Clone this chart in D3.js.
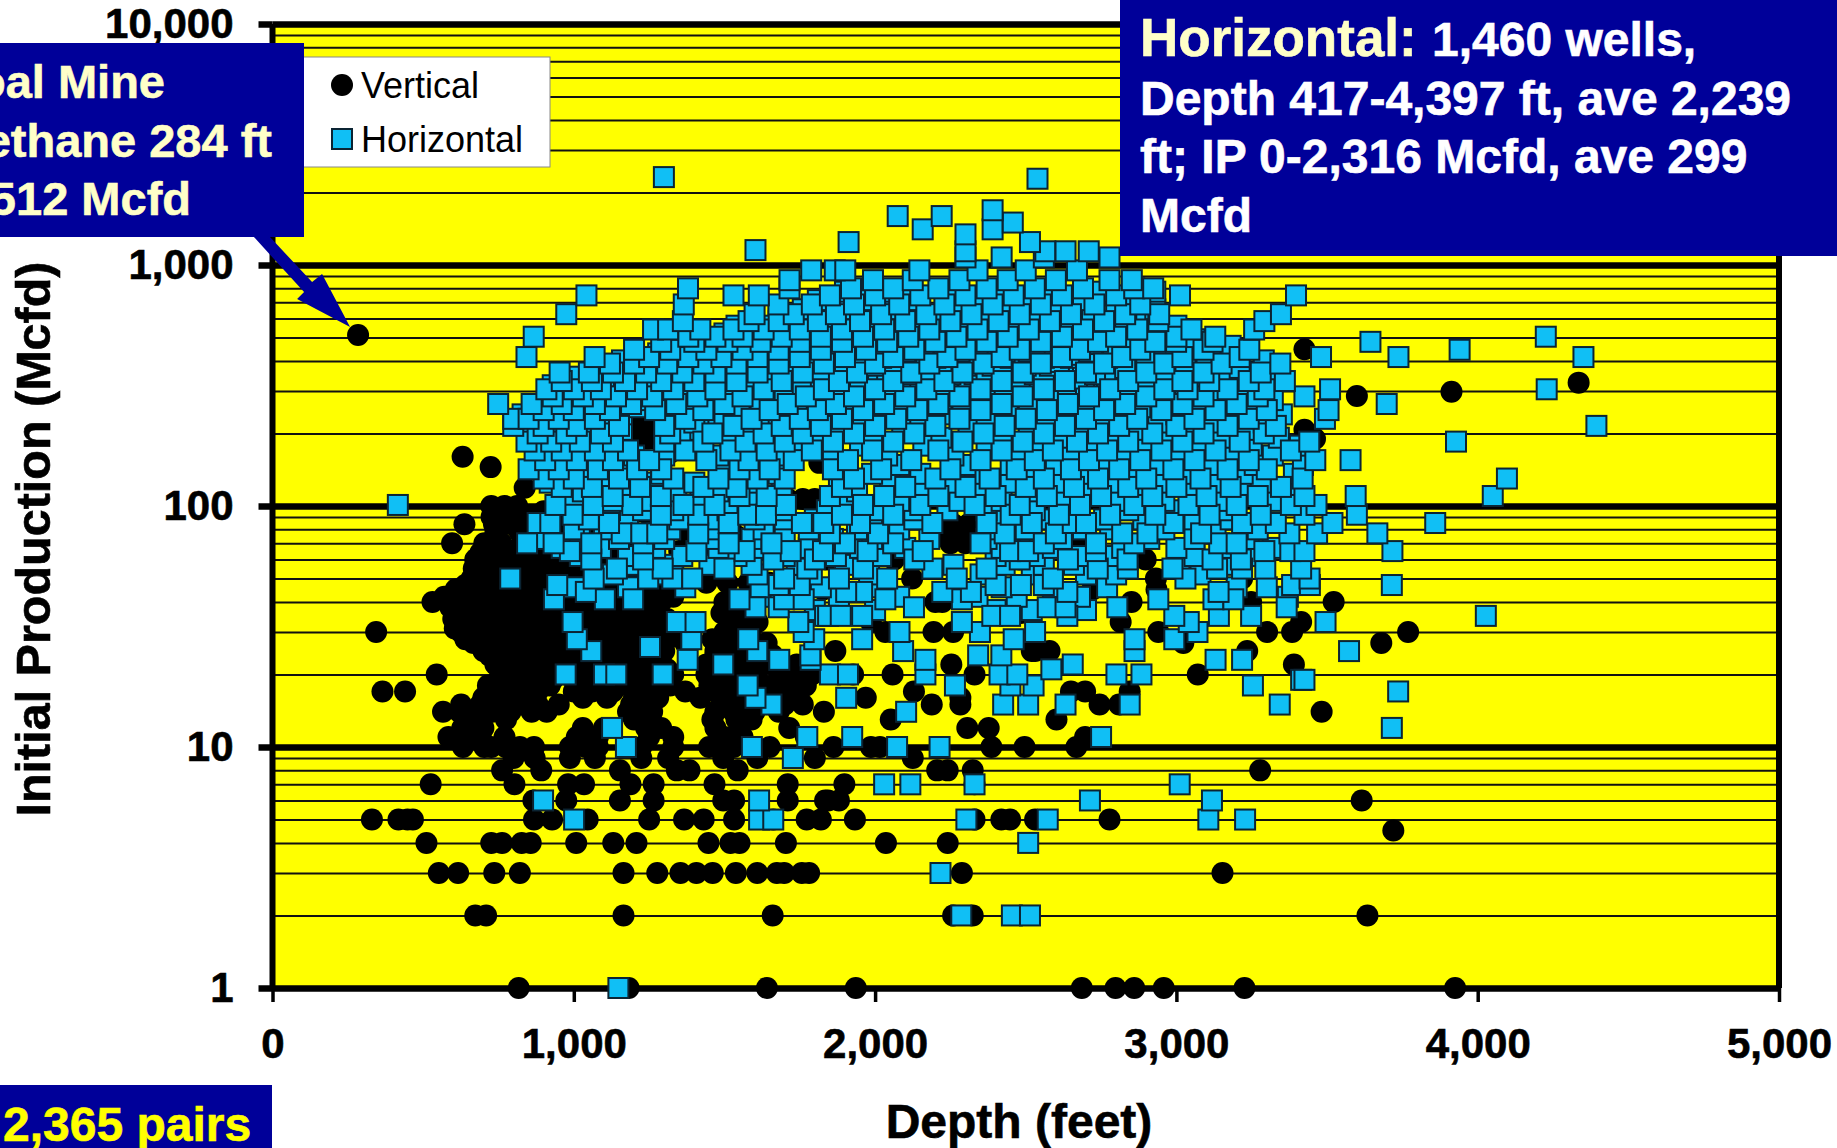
<!DOCTYPE html>
<html>
<head>
<meta charset="utf-8">
<script src="https://cdn.jsdelivr.net/npm/d3@7"></script>
<style>
  body { margin: 0; background: #fff; }
  text { font-family: "Liberation Sans", Arial, sans-serif; }
</style>
</head>
<body>
<div id="chart"></div>
<script>
const majorTicks = [1, 10, 100, 1000, 10000]
const minorTicks = [2, 3, 4, 5, 6, 7, 8, 9, 20, 30, 40, 50, 60, 70, 80, 90, 200, 300, 400, 500, 600, 700, 800, 900, 2000, 3000, 4000, 5000, 6000, 7000, 8000, 9000]
const depthTicks = [0, 1000, 2000, 3000, 4000, 5000]

// one row per IP value: [IP, [depths]]
const verticalRows = [
  [1, [817, 1182, 1641, 1936, 2686, 2798, 2860, 2958, 3226, 3925]],
  [2, [673, 709, 1165, 1660, 2259, 2324, 3634]],
  [3, [552, 616, 736, 821, 1165, 1277, 1354, 1407, 1461, 1538, 1609, 1674, 1698, 1757, 1781, 2288, 3153]],
  [4, [511, 726, 762, 827, 857, 1008, 1131, 1208, 1447, 1520, 1550, 1704, 2036, 2241]],
  [4.5, [3720]],
  [5, [330, 418, 448, 466, 868, 928, 1046, 1250, 1366, 1431, 1532, 1662, 1773, 1820, 1933, 2330, 2419, 2448, 2531, 2778]],
  [6, [866, 975, 1153, 1265, 1496, 1532, 1710, 1834, 1844, 1880, 3615]],
  [7, [525, 803, 981, 1034, 1188, 1265, 1467, 1710, 1898, 2330]],
  [8, [762, 892, 1153, 1342, 1384, 1544, 2206, 2241, 2324, 3278]],
  [9, [800, 870, 987, 1070, 1224, 1313, 1496, 1609, 1800, 2125]],
  [10, [632, 703, 726, 774, 821, 868, 987, 1040, 1080, 1224, 1330, 1449, 1530, 1650, 1862, 1986, 2016, 2386, 2496, 2668]],
  [11, [584, 650, 691, 770, 1010, 1080, 1250, 1330, 1500, 1560, 1770, 2697]],
  [12, [630, 665, 700, 1030, 1100, 1240, 1290, 1470, 1550, 1715, 2306, 2377]],
  [13, [640, 690, 775, 1200, 1240, 1460, 1540, 1590, 2052, 2602]],
  [14, [566, 620, 670, 730, 790, 860, 910, 1180, 1260, 1470, 1530, 1600, 1680, 1830, 3482]],
  [15, [626, 690, 760, 830, 880, 950, 1190, 1240, 1500, 1570, 1700, 1760, 2188, 2283, 2745, 2810]],
  [16, [700, 770, 840, 1030, 1110, 1200, 1280, 1420, 1490, 1590, 1690, 1969, 2283]],
  [17, [365, 440, 738, 810, 880, 1000, 1060, 1130, 1230, 1370, 1470, 1520, 1640, 1720, 2129, 2650, 2697, 2845]],
  [18, [715, 790, 850, 920, 1010, 1090, 1180, 1250, 1320, 1450, 1560, 1660, 1770]],
  [19, [750, 810, 870, 930, 1000, 1070, 1140, 1210, 1280, 1450, 1530, 1610, 1690, 1760]],
  [20, [545, 780, 830, 900, 970, 1030, 1110, 1190, 1270, 1330, 1440, 1500, 1590, 1700, 1790, 1927, 2058, 2330, 3071]],
  [21, [760, 820, 880, 950, 1020, 1090, 1160, 1240, 1310, 1460, 1530, 1610, 1680]],
  [22, [740, 810, 870, 940, 1000, 1060, 1150, 1220, 1290, 1440, 1520, 1580, 1660, 1740, 2253, 3390]],
  [24, [720, 790, 850, 910, 980, 1040, 1120, 1190, 1260, 1470, 1530, 1590, 1660]],
  [25, [700, 762, 820, 880, 950, 1020, 1090, 1160, 1230, 1300, 1470, 1540, 1620, 1868, 2520, 2579, 2531, 3235]],
  [26, [730, 790, 850, 910, 970, 1050, 1130, 1200, 1270]],
  [27, [667, 720, 790, 850, 910, 980, 1120, 1190, 1280, 1370, 1490, 1550, 1640, 3023, 3680]],
  [28, [640, 700, 760, 820, 880, 940, 1010, 1070, 1150, 1220, 1310, 1460, 1520, 1590]],
  [30, [344, 625, 690, 750, 810, 870, 930, 990, 1100, 1180, 1250, 1330, 1500, 1570, 2034, 2058, 2194, 2259, 2940, 3301, 3384, 3769]],
  [31, [605, 660, 720, 780, 840, 900, 960, 1030, 1140, 1210, 1290]],
  [33, [620, 680, 740, 800, 860, 920, 985, 1060, 1130, 1200, 1280, 1520, 1610, 1986, 2815, 3414]],
  [34, [600, 650, 710, 770, 830, 890, 950, 1020, 1100, 1170, 1240, 1310]],
  [36, [612, 670, 730, 790, 850, 910, 970, 1050, 1130, 1230, 1490, 1560, 2484]],
  [38, [590, 640, 700, 760, 820, 880, 940, 1000, 1080, 1170, 1260]],
  [40, [531, 608, 660, 720, 780, 840, 900, 960, 1020, 1090, 1170, 1290, 1500, 1560, 2200, 2223, 2851, 3248, 3522]],
  [42, [570, 640, 690, 750, 810, 870, 930, 990, 1060, 1130, 1230, 1330]],
  [45, [608, 650, 705, 760, 820, 880, 950, 1020, 1090, 1160, 1260, 1827, 2721, 2934]],
  [47, [640, 680, 735, 800, 860, 930, 1000, 1060, 1130, 1210, 1290, 1350]],
  [48, [1440, 1510, 1580, 1650]],
  [50, [661, 712, 770, 840, 900, 975, 1040, 1120, 1190, 2123, 2932, 3218]],
  [52, [680, 735, 800, 870, 940, 1010, 1080, 1150, 1210, 1280]],
  [55, [668, 720, 790, 860, 930, 1010, 1090]],
  [58, [700, 760, 830, 900, 970, 1040, 1110, 1180, 1240]],
  [60, [673, 740, 810, 880, 960, 1050, 1840, 2063, 2478, 2898]],
  [64, [690, 720, 790, 850, 950, 1856]],
  [65, [900, 1000, 1060, 1130, 1200, 1270, 1350, 1430, 1510, 1590, 1660]],
  [70, [596, 703, 760, 830, 900, 2250, 2300, 2678, 2685]],
  [75, [950, 1010, 1080, 1150, 1220, 1300, 1380, 1460, 1540, 1610, 2230, 2290]],
  [78, [740, 820, 880, 2240, 2280, 2330]],
  [84, [637, 735, 790, 2260, 2310]],
  [85, [900, 960, 1030, 1100, 1180, 1260, 1340, 1450, 1520, 1600]],
  [90, [727, 765, 850, 2100]],
  [95, [900, 960, 1020, 1090, 1160, 1220, 1290, 1350, 1420, 1500, 1580]],
  [100, [726, 770, 812]],
  [107, [1710, 1760, 1800]],
  [115, [2086]],
  [119, [837]],
  [145, [724]],
  [151, [1815]],
  [160, [631]],
  [166, [1318]],
  [190, [1225, 1245, 1270, 3460]],
  [207, [3425]],
  [220, [1215, 1260]],
  [286, [3599]],
  [298, [3913]],
  [325, [4335]],
  [352, [3347]],
  [447, [3425]],
  [512, [284]]
]

// squares that sit inside the thick of the cloud, drawn first
const horizontalInner = [
  [37, [1800, 2000, 2400, 2520, 2700]],
  [42, [1650, 1880, 2080, 2340, 2470, 2680, 3370]],
  [46, [1000, 1180, 1370, 1620, 1820, 1990, 2420, 2590, 2770, 3200, 3300]],
  [52, [1130, 1280, 1610, 1790, 1980, 2350, 2520, 2700, 2800, 3080]],
  [57, [1200, 1330, 1450, 1590, 1740, 1900, 2260, 2430, 2560, 2660, 3010, 3170]],
  [62, [1020, 1180, 1360, 1540, 1700, 1870, 2020, 2400, 2530, 2680, 2790, 3060, 3260]],
  [67, [960, 1090, 1270, 1480, 1620, 1780, 1950, 2100, 2420, 2590, 2820, 3000, 3180, 3320]],
  [73, [910, 1020, 1150, 1300, 1450, 1590, 1700, 1860, 1990, 2180, 2370, 2480, 2620, 2910, 3060, 3240]],
  [80, [1000, 1100, 1320, 1470, 1630, 1780, 1940, 2080, 2390, 2500, 2690, 2780, 2960, 3130, 3270]],
  [88, [1050, 1180, 1350, 1470, 1600, 1700, 1800, 1990, 2130, 2430, 2560, 2640, 2760, 2890, 3060, 3180]],
  [96, [1120, 1230, 1330, 1510, 1700, 1840, 2000, 2130, 2240, 2370, 2530, 2660, 2840, 2990, 3170]],
  [105, [1000, 1130, 1250, 1420, 1600, 1900, 2080, 2280, 2420, 2620, 2800, 2960, 3150, 3320]],
  [115, [1030, 1180, 1340, 1480, 1690, 1940, 2150, 2350, 2530, 2710, 2880, 3060, 3230, 3400]],
  [125, [920, 1110, 1270, 1400, 1590, 1880, 2050, 2250, 2450, 2610, 2790, 2950, 3120, 3280]],
  [136, [1040, 1180, 1290, 1530, 1680, 1990, 2150, 2330, 2520, 2690, 2860, 3030, 3220, 3390]],
  [148, [990, 1100, 1490, 1620, 1900, 2080, 2300, 2450, 2600, 2770, 2930, 3110, 3260, 3420]],
  [162, [930, 1060, 1200, 1300, 1480, 1680, 1860, 2040, 2260, 2480, 2650, 2820, 3000, 3180, 3320]],
  [178, [1000, 1110, 1410, 1560, 1750, 1950, 2160, 2370, 2540, 2720, 2900, 3070, 3250, 3410]],
  [192, [900, 1050, 1150, 1360, 1520, 1660, 1810, 1990, 2220, 2420, 2610, 2790, 2970, 3150, 3340]],
  [207, [940, 1040, 1160, 1420, 1580, 1720, 1880, 2090, 2310, 2510, 2690, 2870, 3050, 3230]],
  [222, [860, 980, 1100, 1400, 1480, 1640, 1790, 1960, 2150, 2370, 2570, 2760, 2940, 3120, 3290]],
  [240, [830, 930, 1040, 1160, 1320, 1500, 1680, 1850, 2020, 2220, 2440, 2640, 2820, 3000, 3180, 3350]],
  [257, [880, 1080, 1210, 1370, 1550, 1740, 1900, 2090, 2290, 2510, 2700, 2880, 3070, 3240]],
  [275, [970, 1100, 1230, 1460, 1620, 1820, 1990, 2170, 2370, 2580, 2770, 2960, 3140, 3320]],
  [295, [1050, 1170, 1300, 1520, 1700, 1880, 2050, 2230, 2430, 2640, 2840, 3030, 3210]],
  [317, [930, 1020, 1130, 1260, 1390, 1590, 1760, 1950, 2120, 2300, 2500, 2700, 2900, 3050, 3230]],
  [338, [2060, 2150, 2240, 2310, 2410, 2480, 2590, 2670, 2760]],
  [344, [1000, 1100, 1210, 1320, 1430, 1660, 1820, 2010, 2180, 2360, 2560, 2770, 2960, 3150, 3310]],
  [352, [2040, 2110, 2250, 2330, 2420, 2530, 2620, 2730]],
  [363, [2090, 2170, 2270, 2370, 2450, 2560, 2640]],
  [374, [1090, 1280, 1390, 1510, 1720, 1900, 2070, 2240, 2430, 2630, 2830, 3030, 3210]],
  [382, [2000, 2110, 2300, 2390, 2500, 2580, 2690]],
  [396, [2060, 2150, 2220, 2330, 2420, 2530, 2610, 2720]],
  [402, [1160, 1340, 1450, 1580, 1790, 1960, 2130, 2310, 2490, 2700, 2900, 3100, 3290]],
  [412, [2020, 2200, 2360, 2450, 2560, 2650, 2770]],
  [424, [2090, 2170, 2280, 2390, 2470, 2590, 2680]],
  [430, [1280, 1410, 1530, 1650, 1860, 2020, 2190, 2370, 2560, 2760, 2960, 3150]],
  [437, [2100, 2280, 2430, 2510, 2620, 2710]],
  [452, [2050, 2230, 2340, 2460, 2570, 2660, 2790]],
  [462, [1340, 1470, 1590, 1720, 1920, 2090, 2260, 2440, 2630, 2830, 3040, 3180]],
  [470, [2010, 2160, 2340, 2530, 2720]],
  [492, [1440, 1650, 1780, 1990, 2160, 2330, 2510, 2700, 2890, 3060]],
  [510, [2040, 2210, 2380, 2560, 2770]],
  [520, [1360, 1500, 1600, 1720, 1850, 2060, 2230, 2400, 2580, 2770, 2960]],
  [530, [2130, 2310, 2480, 2650]],
  [560, [1540, 1650, 1780, 1920, 2120, 2300, 2470, 2650, 2830, 3000]],
  [605, [1720, 1840, 1990, 2200, 2370, 2540, 2720, 2900]],
  [655, [1760, 1900, 2050, 2270, 2440, 2610, 2800, 2930]],
  [715, [1810, 1970, 2120, 2340, 2510, 2690, 2840]],
  [775, [1900, 2040, 2260, 2410, 2590, 2750, 2930]]
]

const horizontalRows = [
  [1, [1148]],
  [2, [2286, 2454, 2514]],
  [3, [2217]],
  [4, [2508]],
  [5, [1001, 1615, 1662, 2303, 2573, 3106, 3228]],
  [6, [898, 1615, 2713, 3118]],
  [7, [2030, 2117, 2330, 3011]],
  [9, [1727]],
  [10, [1173, 1591, 2073, 2214]],
  [11, [1775, 1924, 2750]],
  [12, [1127, 3715]],
  [14, [2103]],
  [15, [1656, 2425, 2508, 2632, 2845, 3343]],
  [16, [1603, 1904]],
  [17, [3736]],
  [18, [1577, 2265, 2449, 2526, 3254]],
  [19, [3414, 3425]],
  [20, [973, 1100, 1141, 1295, 1850, 1910, 2167, 2413, 2472, 2801, 2884]],
  [21, [2585]],
  [22, [1496, 2656]],
  [23, [1378, 1682, 1786, 2167, 3130, 3218]],
  [24, [1785, 2342, 2419]],
  [25, [1058, 1609, 2093, 2861, 3573]],
  [26, [1253]],
  [28, [1010, 1390, 1579, 1798, 1957, 2460, 2861, 2993]],
  [30, [1763, 2081, 2348, 2531, 3070]],
  [33, [996, 1342, 1404, 1745, 2288, 3041, 3495]],
  [35, [1834, 1844, 1886, 1957, 2389, 2448, 2638, 2993, 3141, 3248, 4027]],
  [38, [1603, 1680, 2129, 2573, 2632, 2804, 3366]],
  [41, [934, 1197, 1103, 1550, 1698, 1763, 2288, 2034, 2940, 3123, 3189]],
  [44, [1040, 1957, 1904, 2223, 2638, 2318, 3140]],
  [47, [945, 1680, 1750, 2484, 2400, 2560, 3384, 3443, 3715]],
  [50, [789, 1066, 1247, 1327, 1393, 1698, 1880, 2271, 2040, 2590, 3030, 3442]],
  [55, [1143, 1295, 1500, 1775, 1960, 2190, 2370, 2739, 2839, 2987, 3135, 3218, 3295, 3414]],
  [60, [1058, 1230, 1662, 1800, 2130, 2480, 2640, 3214, 2838, 3120]],
  [65, [987, 1407, 1567, 1720, 1827, 1975, 2158, 2448, 2508, 2733, 3378, 3292, 3425, 3717]],
  [70, [845, 933, 1058, 1230, 1514, 1656, 1900, 2060, 2350, 2560, 2733, 2860, 3142, 3200]],
  [77, [1159, 1224, 1277, 1413, 1850, 2010, 2430, 2600, 2820, 2904, 3082, 3375, 3467, 3667]],
  [85, [880, 922, 1117, 1514, 1757, 1828, 1950, 2190, 2370, 2520, 2656, 2700, 2990, 3218, 3330, 3518, 3859]],
  [92, [996, 1289, 1413, 1579, 1638, 1890, 2060, 2450, 2610, 2780, 2930, 3110, 3280, 3425, 3599]],
  [101, [416, 939, 1064, 1194, 1364, 1467, 1704, 1960, 2150, 2330, 2480, 2680, 2860, 3040, 3200, 3380, 3465]],
  [110, [1129, 1289, 1550, 1640, 1850, 2030, 2210, 2400, 2570, 2750, 2920, 3100, 3270, 3425, 3595, 4050]],
  [120, [960, 1060, 1220, 1430, 1540, 1890, 2100, 2300, 2500, 2660, 2840, 3000, 3180, 3347]],
  [130, [900, 1000, 1150, 1330, 1480, 1610, 1700, 1930, 2200, 2380, 2560, 2740, 2900, 3080, 3419, 4097]],
  [142, [850, 950, 1080, 1210, 1290, 1550, 1650, 1860, 2020, 2250, 2470, 2650, 2810, 2990, 3170, 3300]],
  [155, [905, 1010, 1130, 1250, 1440, 1580, 1730, 1910, 2120, 2350, 2530, 2710, 2880, 3060, 3240, 3461, 3578]],
  [170, [870, 960, 1070, 1180, 1370, 1520, 1640, 1790, 1990, 2210, 2420, 2590, 2770, 2950, 3130, 3380]],
  [185, [843, 925, 1020, 1130, 1300, 1430, 1570, 1700, 1860, 2060, 2290, 2490, 2670, 2840, 3020, 3210, 3441, 3928]],
  [200, [880, 975, 1090, 1320, 1460, 1630, 1760, 1930, 2130, 2360, 2560, 2740, 2920, 3090, 3290]],
  [215, [799, 900, 1010, 1150, 1300, 1530, 1690, 1820, 2000, 2200, 2430, 2630, 2810, 3000, 3170, 3330, 4394]],
  [230, [799, 850, 950, 1070, 1370, 1590, 1750, 1890, 2070, 2280, 2500, 2700, 2870, 3060, 3240, 3493]],
  [250, [900, 1000, 1120, 1270, 1430, 1650, 1810, 1960, 2140, 2350, 2570, 2760, 2950, 3130, 3300, 3505]],
  [265, [749, 860, 960, 1070, 1190, 1340, 1500, 1710, 1870, 2030, 2210, 2420, 2640, 2830, 3020, 3200, 3698]],
  [285, [930, 1030, 1140, 1260, 1410, 1560, 1770, 1930, 2100, 2280, 2490, 2710, 2900, 3090, 3270, 3425]],
  [305, [909, 1000, 1090, 1210, 1330, 1470, 1630, 1830, 2000, 2170, 2350, 2560, 2780, 2960, 3037, 3170, 3292, 3510, 4229]],
  [330, [960, 1060, 1170, 1290, 1400, 1540, 1690, 1880, 2060, 2230, 2420, 2630, 2840, 3020, 3109, 3240, 3360]],
  [358, [953, 1050, 1130, 1240, 1360, 1470, 1610, 1760, 1940, 2120, 2290, 2490, 2700, 2900, 3090, 3280]],
  [390, [1120, 1200, 1310, 1430, 1540, 1680, 1830, 2000, 2180, 2360, 2550, 2760, 2960, 3150, 3345]],
  [415, [843, 1069, 1250, 1380, 1490, 1610, 1750, 1900, 2060, 2240, 2420, 2620, 2820, 3020, 3210, 3480, 3737, 4351]],
  [445, [1200, 1320, 1440, 1560, 1680, 1820, 1970, 2130, 2300, 2480, 2680, 2880, 3090, 3242, 3940]],
  [480, [1290, 1400, 1510, 1620, 1750, 1890, 2040, 2200, 2370, 2550, 2740, 2930, 2999, 3120, 3644]],
  [504, [867, 1380, 1470, 1560, 1690, 1820, 1960, 2110, 2270, 2440, 2620, 2800, 3000, 3129, 4226]],
  [540, [1263, 1313, 1420, 1530, 1630, 1750, 1890, 2030, 2180, 2340, 2510, 2690, 2870, 3050, 3258]],
  [585, [1362, 1580, 1680, 1810, 1950, 2100, 2250, 2410, 2580, 2760, 2940, 3292]],
  [625, [975, 1600, 1730, 1870, 2020, 2170, 2320, 2480, 2650, 2830, 2943, 3347]],
  [686, [1365, 1679, 1790, 1930, 2080, 2230, 2390, 2550, 2728, 2880]],
  [748, [1042, 1530, 1614, 1850, 2000, 2150, 2300, 2460, 2620, 2800, 3012, 3397]],
  [800, [1379, 1716, 1920, 2060, 2210, 2370, 2530, 2690, 2860, 2923]],
  [865, [1716, 1993, 2125, 2280, 2440, 2600, 2778, 2852]],
  [950, [1788, 1866, 1901, 2147, 2340, 2500, 2670]],
  [1075, [2300, 2420, 2560, 2778]],
  [1140, [2300, 2565, 2632, 2709]],
  [1153, [1603]],
  [1245, [1912, 2514]],
  [1340, [2300]],
  [1406, [2158, 2390]],
  [1500, [2457]],
  [1596, [2075, 2221]],
  [1687, [2390]],
  [2280, [2539]],
  [2316, [1299]]
]

const legendLabels = ['Vertical', 'Horizontal']
const coalLines = ['Coal Mine', 'Methane 284 ft', 'IP 512 Mcfd']
const coalEnds = [165, 272, 191]
const horizontalLines = ['1,460 wells,', 'Depth 417-4,397 ft, ave 2,239', 'ft; IP 0-2,316 Mcfd, ave 299', 'Mcfd']

const vertical = verticalRows.flatMap(r => r[1].map(depth => ({ depth: depth, ip: r[0] })))
const horizontal = horizontalInner.concat(horizontalRows)
  .flatMap(r => r[1].map(depth => ({ depth: depth, ip: r[0] })))

const width = 1837
const height = 1148
const margin = { top: 24, right: 58, bottom: 160, left: 272.5 }
const plotW = width - margin.left - margin.right
const plotH = height - margin.top - margin.bottom

const navy = '#000099'
const cream = '#FFFFC8'

const svg = d3.select('#chart').append('svg')
  .attr('width', width)
  .attr('height', height)
  .style('display', 'block')

const g = svg.append('g')
  .attr('transform', 'translate(' + margin.left + ',' + margin.top + ')')

const x = d3.scaleLinear().domain([0, 5000]).range([0, plotW])
const y = d3.scaleLog().domain([1, 10000]).range([plotH, 0])

g.append('rect')
  .attr('width', plotW)
  .attr('height', plotH)
  .attr('fill', '#FFFF00')

// thin lines for 2..9 of each decade
const minorAxis = g.append('g')
  .call(d3.axisLeft(y).tickValues(minorTicks).tickSize(-plotW).tickFormat(''))
minorAxis.select('.domain').remove()
minorAxis.selectAll('line').attr('stroke', '#111').attr('stroke-width', 2)

const majorGrid = g.append('g')
  .call(d3.axisLeft(y).tickValues(majorTicks).tickSize(-plotW).tickFormat(''))
majorGrid.select('.domain').remove()
majorGrid.selectAll('line').attr('stroke', '#000').attr('stroke-width', 6.5)

// frame sides
g.append('line').attr('x1', 0).attr('x2', 0).attr('y1', 0).attr('y2', plotH)
  .attr('stroke', '#000').attr('stroke-width', 6)
g.append('line').attr('x1', plotW).attr('x2', plotW).attr('y1', 0).attr('y2', plotH)
  .attr('stroke', '#000').attr('stroke-width', 6)

const yAxis = g.append('g')
  .call(d3.axisLeft(y).tickValues(majorTicks).tickSize(14).tickPadding(25).tickFormat(d3.format(',')))
yAxis.select('.domain').remove()
yAxis.selectAll('line').attr('stroke', '#000').attr('stroke-width', 6.5)
yAxis.selectAll('text')
  .attr('fill', '#000')
  .style('font-size', '42px')
  .style('font-weight', 'bold')
  .style('stroke', '#000')
  .style('stroke-width', 0.6)

const xAxis = g.append('g')
  .attr('transform', 'translate(0,' + plotH + ')')
  .call(d3.axisBottom(x).tickValues(depthTicks).tickSize(14).tickPadding(26).tickFormat(d3.format(',')))
xAxis.select('.domain').remove()
xAxis.selectAll('line').attr('stroke', '#000').attr('stroke-width', 3.5)
xAxis.selectAll('text')
  .attr('fill', '#000')
  .style('font-size', '42px')
  .style('font-weight', 'bold')
  .style('stroke', '#000')
  .style('stroke-width', 0.6)

g.selectAll('.vertical')
  .data(vertical)
  .enter()
  .append('circle')
  .attr('class', 'vertical')
  .attr('cx', d => x(d.depth))
  .attr('cy', d => y(d.ip))
  .attr('r', 11)
  .attr('fill', '#000')

g.selectAll('.horizontal')
  .data(horizontal)
  .enter()
  .append('rect')
  .attr('class', 'horizontal')
  .attr('x', d => x(d.depth) - 10)
  .attr('y', d => y(d.ip) - 10)
  .attr('width', 20)
  .attr('height', 20)
  .attr('fill', '#10BFF5')
  .attr('stroke', '#0b2433')
  .attr('stroke-width', 2)

// axis titles
svg.append('text')
  .attr('x', 1019)
  .attr('y', 1138)
  .attr('text-anchor', 'middle')
  .style('font-size', '48px')
  .style('font-weight', 'bold')
  .style('stroke', '#000')
  .style('stroke-width', 0.6)
  .text('Depth (feet)')

svg.append('text')
  .attr('transform', 'translate(50,539) rotate(-90)')
  .attr('text-anchor', 'middle')
  .style('font-size', '48.5px')
  .style('font-weight', 'bold')
  .style('stroke', '#000')
  .style('stroke-width', 0.6)
  .text('Initial Production (Mcfd)')

// legend
svg.append('rect')
  .attr('x', 290).attr('y', 57)
  .attr('width', 260).attr('height', 110)
  .attr('fill', '#fff')
  .attr('stroke', '#888')
  .attr('stroke-width', 1)

svg.append('circle').attr('cx', 342).attr('cy', 85).attr('r', 11).attr('fill', '#000')
svg.append('rect')
  .attr('x', 332).attr('y', 129).attr('width', 20).attr('height', 20)
  .attr('fill', '#10BFF5').attr('stroke', '#0b2433').attr('stroke-width', 2)

svg.selectAll('.legend-label')
  .data(legendLabels)
  .enter()
  .append('text')
  .attr('class', 'legend-label')
  .attr('x', 361)
  .attr('y', (d, i) => 98 + i * 54)
  .style('font-size', '36px')
  .text(d => d)

// arrow from the box to the coal mine methane well
const tipX = margin.left + x(284) - 8
const tipY = margin.top + y(512) - 8
const arrow = [[-97, -91], [-81, -91], [-38, -45], [-28, -53], [0, 0], [-53, -28], [-46, -35]]
svg.append('path')
  .attr('d', d3.line()(arrow.map(p => [tipX + p[0], tipY + p[1]])) + 'Z')
  .attr('fill', navy)

// coal mine box, runs off the left of the slide
svg.append('rect')
  .attr('x', 0).attr('y', 43)
  .attr('width', 304).attr('height', 194)
  .attr('fill', navy)

svg.selectAll('.coal-line')
  .data(coalLines)
  .enter()
  .append('text')
  .attr('class', 'coal-line')
  .attr('x', (d, i) => coalEnds[i])
  .attr('y', (d, i) => 98 + i * 58.5)
  .attr('text-anchor', 'end')
  .attr('fill', cream)
  .style('font-size', '47px')
  .style('font-weight', 'bold')
  .style('stroke', cream)
  .style('stroke-width', 0.6)
  .text(d => d)

// horizontal summary box
svg.append('rect')
  .attr('x', 1120).attr('y', 0)
  .attr('width', 717).attr('height', 256)
  .attr('fill', navy)

svg.append('text')
  .attr('x', 1140)
  .attr('y', 56)
  .attr('fill', cream)
  .style('font-size', '53px')
  .style('font-weight', 'bold')
  .style('stroke', cream)
  .style('stroke-width', 0.6)
  .text('Horizontal:')

svg.selectAll('.horizontal-line')
  .data(horizontalLines)
  .enter()
  .append('text')
  .attr('class', 'horizontal-line')
  .attr('x', (d, i) => i === 0 ? 1432 : 1140)
  .attr('y', (d, i) => 56 + i * 58.5)
  .attr('fill', '#fff')
  .style('font-size', '48px')
  .style('font-weight', 'bold')
  .style('stroke', '#fff')
  .style('stroke-width', 0.6)
  .text(d => d)

// pairs box
svg.append('rect')
  .attr('x', 0).attr('y', 1085)
  .attr('width', 272).attr('height', 63)
  .attr('fill', navy)

svg.append('text')
  .attr('x', 3)
  .attr('y', 1141)
  .attr('fill', '#FFFF00')
  .style('font-size', '48px')
  .style('font-weight', 'bold')
  .style('stroke', '#FFFF00')
  .style('stroke-width', 0.6)
  .text('2,365 pairs')
</script>
</body>
</html>
